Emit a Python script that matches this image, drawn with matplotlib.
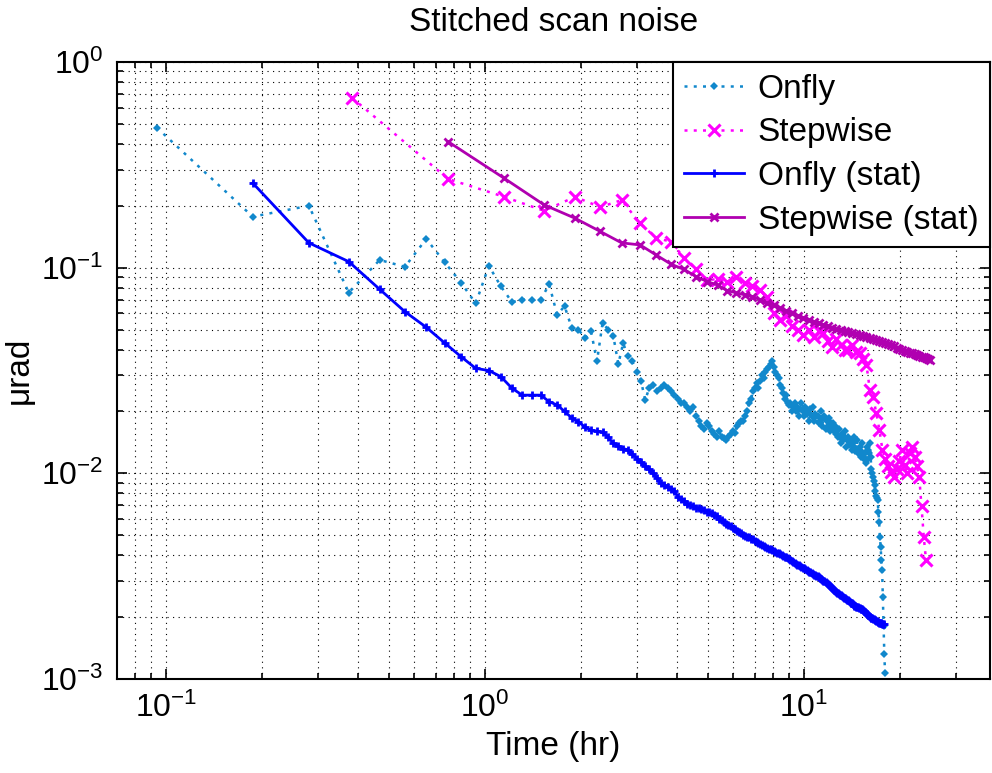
import numpy as np
import matplotlib
matplotlib.use('Agg')
import matplotlib.pyplot as plt

plt.rcParams['font.family'] = ['Liberation Sans', 'DejaVu Sans']
plt.rcParams['mathtext.fontset'] = 'custom'
plt.rcParams['mathtext.rm'] = 'Liberation Sans'
plt.rcParams['mathtext.it'] = 'Liberation Sans:italic'
plt.rcParams['mathtext.bf'] = 'Liberation Sans:bold'

# sampling period of each scan (hr)
dt_onfly = 0.0935
dt_step = 0.383

onfly = [
    0.48, 0.177, 0.20, 0.0756, 0.109, 0.101, 0.138, 0.106, 0.0845, 0.067,
    0.102, 0.081, 0.068, 0.070, 0.070, 0.070, 0.083, 0.059, 0.065, 0.051,
    0.050, 0.0454, 0.049, 0.035, 0.054, 0.050, 0.0466, 0.034, 0.043, 0.037,
    0.035, 0.031, 0.028, 0.0227, 0.026, 0.027, 0.025, 0.026, 0.027, 0.026,
    0.025, 0.024, 0.023, 0.022, 0.022, 0.021, 0.020, 0.021, 0.019, 0.018,
    0.017, 0.0165, 0.0175, 0.017, 0.016, 0.0155, 0.015, 0.016, 0.015, 0.0148,
    0.0145, 0.015, 0.0155, 0.016, 0.0157, 0.017, 0.0175, 0.018, 0.018, 0.019,
    0.020, 0.022, 0.023, 0.025, 0.026, 0.0274, 0.026, 0.028, 0.030, 0.029,
    0.031, 0.032, 0.033, 0.034, 0.035, 0.033, 0.031, 0.030, 0.029, 0.027,
    0.026, 0.0246, 0.023, 0.024, 0.022, 0.0215, 0.022, 0.020, 0.021, 0.022,
    0.020, 0.021, 0.019, 0.0205, 0.022, 0.020, 0.019, 0.021, 0.0195, 0.020,
    0.018, 0.0205, 0.019, 0.021, 0.018, 0.0195, 0.0189, 0.019, 0.0175, 0.018,
    0.020, 0.017, 0.0185, 0.019, 0.0165, 0.018, 0.017, 0.0185, 0.016, 0.0175,
    0.0165, 0.0175, 0.016, 0.017, 0.0155, 0.016, 0.015, 0.0165, 0.015, 0.014,
    0.0155, 0.0145, 0.015, 0.016, 0.0135, 0.0145, 0.015, 0.0138, 0.014, 0.0145,
    0.013, 0.014, 0.0135, 0.015, 0.0128, 0.0132, 0.0145, 0.0125, 0.013, 0.0135,
    0.012, 0.0128, 0.014, 0.0122, 0.0118, 0.0125, 0.0112, 0.0116, 0.0135, 0.013,
    0.0125, 0.014, 0.012, 0.0105, 0.010, 0.0096, 0.0092, 0.0088, 0.0082, 0.0078,
    0.0076, 0.0074, 0.0065, 0.0058, 0.0049, 0.0044, 0.0038, 0.0034, 0.0025, 0.0018,
    0.00133, 0.00107,
]

stepwise = [
    0.67, 0.27, 0.221, 0.189, 0.221, 0.197, 0.213, 0.164, 0.139, 0.134,
    0.111, 0.098, 0.087, 0.088, 0.0855, 0.090, 0.084, 0.081, 0.078, 0.072,
    0.060, 0.0557, 0.058, 0.052, 0.050, 0.047, 0.050, 0.046, 0.049, 0.048,
    0.044, 0.0413, 0.045, 0.042, 0.040, 0.0398, 0.042, 0.039, 0.0383, 0.036,
    0.0337, 0.0254, 0.0236, 0.0196, 0.0163, 0.013, 0.0118, 0.0108, 0.0102, 0.0096,
    0.0105, 0.0115, 0.013, 0.0110, 0.0100, 0.0125, 0.0135, 0.0120, 0.0108, 0.0096,
    0.0069, 0.0049, 0.0038,
]

# statistical estimates start at the second sample
onfly_stat = [
    0.258, 0.132, 0.107, 0.0785, 0.0611, 0.0513, 0.0430, 0.0369, 0.0324, 0.0316,
    0.0295, 0.0259, 0.0240, 0.0240, 0.0240, 0.0223, 0.0215, 0.0200, 0.0186, 0.0178,
    0.0168, 0.0162, 0.0160, 0.0159, 0.0150, 0.0140, 0.0136, 0.0132, 0.0130, 0.0124,
    0.0118, 0.0113, 0.0108, 0.0105, 0.0100, 0.0095, 0.0090, 0.0088, 0.0086, 0.0084,
    0.0082, 0.0077, 0.0075, 0.0073, 0.0071, 0.0070, 0.0069, 0.0068, 0.0068, 0.0067,
    0.0066, 0.0065, 0.0065, 0.0064, 0.0063, 0.0062, 0.0060, 0.0059, 0.0058, 0.0057,
    0.00562, 0.00554, 0.00545, 0.00535, 0.00525, 0.00518, 0.00510, 0.00503, 0.00497, 0.00492,
    0.00488, 0.00482, 0.00477, 0.00470, 0.00463, 0.00458, 0.00452, 0.00447, 0.00442, 0.00438,
    0.00434, 0.00431, 0.00428, 0.00424, 0.00420, 0.00416, 0.00412, 0.00408, 0.00404, 0.00401,
    0.00398, 0.00394, 0.00390, 0.00386, 0.00382, 0.00378, 0.00374, 0.00370, 0.00366, 0.00363,
    0.00360, 0.00357, 0.00354, 0.00351, 0.00348, 0.00345, 0.00342, 0.00339, 0.00336, 0.00333,
    0.00330, 0.00327, 0.00324, 0.00322, 0.00320, 0.00318, 0.00316, 0.00313, 0.00310, 0.00307,
    0.00304, 0.00301, 0.00298, 0.00295, 0.00292, 0.00289, 0.00286, 0.00283, 0.00280, 0.00277,
    0.00274, 0.00271, 0.00268, 0.00265, 0.00263, 0.00261, 0.00259, 0.00257, 0.00255, 0.00253,
    0.00251, 0.00249, 0.00247, 0.00245, 0.00243, 0.00241, 0.00239, 0.00237, 0.00235, 0.00233,
    0.00231, 0.00229, 0.00227, 0.00226, 0.00225, 0.00224, 0.00223, 0.00222, 0.00221, 0.00220,
    0.00219, 0.00218, 0.00216, 0.00214, 0.00212, 0.00210, 0.00208, 0.00206, 0.00204, 0.00202,
    0.00200, 0.00199, 0.00198, 0.00197, 0.00196, 0.00195, 0.00194, 0.00193, 0.00192, 0.00191,
    0.00190, 0.00189, 0.00188, 0.00188, 0.00187, 0.00187, 0.00186, 0.00186, 0.00185,
]

stepwise_stat = [
    0.41, 0.272, 0.202, 0.174, 0.150, 0.132, 0.129, 0.115, 0.104, 0.098,
    0.0904, 0.0855, 0.0823, 0.0773, 0.0755, 0.0738, 0.0723, 0.0700, 0.0675, 0.0655,
    0.0635, 0.0618, 0.0600, 0.0585, 0.0570, 0.0558, 0.0547, 0.0538, 0.0528, 0.0519,
    0.0511, 0.0503, 0.0497, 0.0493, 0.0489, 0.0483, 0.0477, 0.0470, 0.0464, 0.0458,
    0.0453, 0.0448, 0.0443, 0.0438, 0.0433, 0.0429, 0.0424, 0.0419, 0.0414, 0.0409,
    0.0404, 0.0399, 0.0394, 0.0390, 0.0386, 0.0383, 0.0379, 0.0375, 0.0372, 0.0369,
    0.0366, 0.0363, 0.0360, 0.0356,
]

t_onfly = dt_onfly * np.arange(1, len(onfly) + 1)
t_step = dt_step * np.arange(1, len(stepwise) + 1)
t_onfly_stat = dt_onfly * np.arange(2, len(onfly_stat) + 2)
t_step_stat = dt_step * np.arange(2, len(stepwise_stat) + 2)

c_onfly = '#1188cc'
c_step = '#ff00ff'
c_onfly_stat = '#0000ff'
c_step_stat = '#b000b0'

fig = plt.figure(figsize=(9.92, 7.73), dpi=100)
ax = fig.add_axes([117 / 992, 1 - 679 / 773, (990 - 117) / 992, (679 - 62) / 773])

ax.plot(t_onfly, onfly, color=c_onfly, linestyle=(0, (1.2, 2.5)), linewidth=1.8,
        marker='D', markersize=4.5, markeredgewidth=0, label='Onfly')
ax.plot(t_step, stepwise, color=c_step, linestyle=(0, (1.2, 2.5)), linewidth=1.8,
        marker='x', markersize=8, markeredgewidth=2.2, label='Stepwise')
ax.plot(t_onfly_stat, onfly_stat, color=c_onfly_stat, linestyle='-', linewidth=2,
        marker='+', markersize=6, markeredgewidth=2, label='Onfly (stat)')
ax.plot(t_step_stat, stepwise_stat, color=c_step_stat, linestyle='-', linewidth=2,
        marker='x', markersize=6, markeredgewidth=2, label='Stepwise (stat)')

ax.set_xscale('log')
ax.set_yscale('log')
ax.set_xlim(0.0702, 38.3)
ax.set_ylim(1e-3, 1)

ax.grid(True, which='both', color='black', linestyle=(0, (1, 4)), linewidth=0.8)
ax.tick_params(which='both', direction='in', top=True, right=True, labelsize=23,
               width=1.2, pad=10)
ax.tick_params(which='major', length=7)
ax.tick_params(which='minor', length=4)
for s in ax.spines.values():
    s.set_linewidth(1.5)

ax.set_title('Stitched scan noise', fontsize=24, pad=22)
ax.set_xlabel('Time (hr)', fontsize=24, labelpad=5)
ax.set_ylabel('\u03bcrad', fontsize=24, labelpad=4)

leg = ax.legend(loc='upper right', fontsize=24, borderaxespad=0, fancybox=False,
                edgecolor='black', framealpha=1, handlelength=1.8,
                labelspacing=0.38, borderpad=0.35, handletextpad=0.4)
leg.get_frame().set_linewidth(1.5)

fig.savefig('out.png', dpi=100)
